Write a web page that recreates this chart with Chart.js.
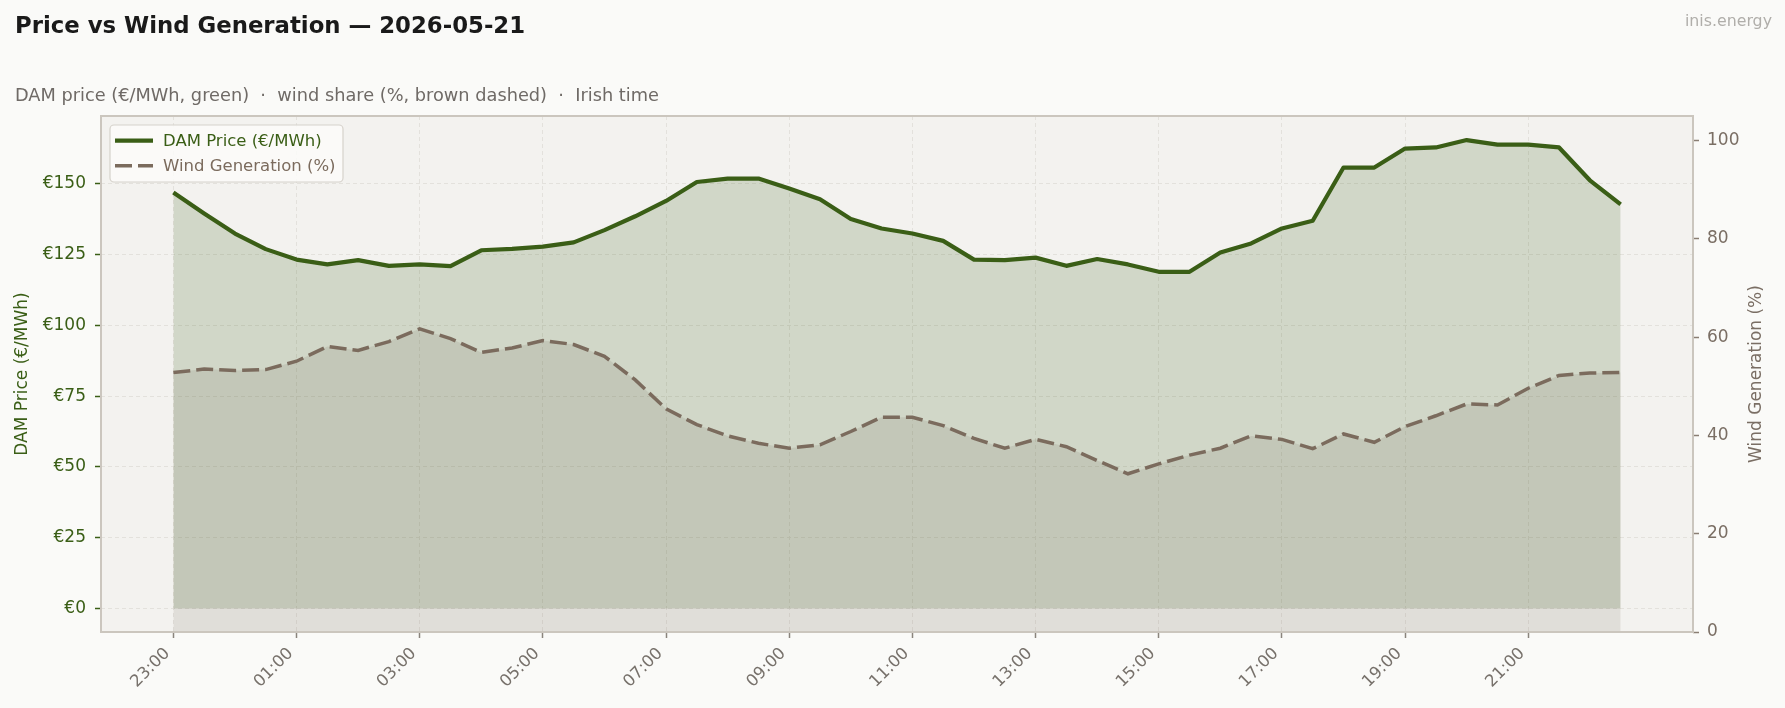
<!DOCTYPE html>
<html lang="en">
<head>
<meta charset="utf-8">
<title>Price vs Wind Generation</title>
<script src="https://cdn.jsdelivr.net/npm/chart.js"></script>
<style>
    body { margin: 0; background: #fafaf8; font-family: 'DejaVu Sans', sans-serif; }
    #wrap { position: relative; width: 1785px; height: 708px; }
    #wrap div { position: absolute; white-space: pre; line-height: 1; }
    .title { left: 15px; top: 14px; font-size: 22.8px; font-weight: bold; color: #1a1a1a; }
    .brand { right: 13px; top: 13px; font-size: 15.8px; color: #b0aeaa; }
    .sub { left: 15px; top: 87px; font-size: 17.75px; color: #6f6a66; }
    canvas { position: absolute; left: 0; top: 0; }
</style>
</head>
<body>
<div id="wrap">
    <canvas id="priceWindChart" width="1785" height="708"></canvas>
    <div class="title">Price vs Wind Generation — 2026-05-21</div>
    <div class="brand">inis.energy</div>
    <div class="sub">DAM price (€/MWh, green)  ·  wind share (%, brown dashed)  ·  Irish time</div>
</div>

<script>
// half-hourly slots, Irish time
const times = [
    '23:00', '23:30', '00:00', '00:30', '01:00', '01:30', '02:00', '02:30',
    '03:00', '03:30', '04:00', '04:30', '05:00', '05:30', '06:00', '06:30',
    '07:00', '07:30', '08:00', '08:30', '09:00', '09:30', '10:00', '10:30',
    '11:00', '11:30', '12:00', '12:30', '13:00', '13:30', '14:00', '14:30',
    '15:00', '15:30', '16:00', '16:30', '17:00', '17:30', '18:00', '18:30',
    '19:00', '19:30', '20:00', '20:30', '21:00', '21:30', '22:00', '22:30'
];

// DAM price, €/MWh
const price = [
    146.9, 139.5, 132.4, 126.9, 123.2, 121.5, 123.0, 121.0, 121.5, 120.9,
    126.5, 127.0, 127.8, 129.3, 133.6, 138.5, 143.9, 150.6, 151.8, 151.8,
    148.3, 144.5, 137.5, 134.2, 132.4, 129.8, 123.2, 123.0, 123.9, 121.0,
    123.4, 121.5, 118.9, 118.9, 125.7, 128.9, 134.2, 136.9, 155.7, 155.7,
    162.4, 162.8, 165.4, 163.8, 163.8, 162.8, 151.2, 142.7
];

// wind share of generation, %
const wind = [
    52.8, 53.5, 53.2, 53.4, 55.1, 58.1, 57.3, 59.1, 61.7, 59.7,
    56.9, 57.8, 59.3, 58.5, 56.1, 51.3, 45.4, 42.2, 39.9, 38.4,
    37.4, 38.1, 40.8, 43.7, 43.7, 42.0, 39.4, 37.4, 39.2, 37.7,
    34.9, 32.2, 34.2, 36.0, 37.4, 39.9, 39.2, 37.3, 40.3, 38.6,
    41.8, 44.0, 46.4, 46.2, 49.6, 52.2, 52.7, 52.8
];

const xTicks = ['23:00', '01:00', '03:00', '05:00', '07:00', '09:00', '11:00', '13:00', '15:00', '17:00', '19:00', '21:00'];
const priceTicks = [0, 25, 50, 75, 100, 125, 150];
const windTicks = [0, 20, 40, 60, 80, 100];

const green = '#3a5e16';
const brown = '#7b6b5d';
const windText = '#7a6e64';
const gridColor = '#e3e1dc';

Chart.defaults.font.family = "'DejaVu Sans', sans-serif";

// plot background, frame, right axis title and the boxed legend
const framePlugin = {
    id: 'frame',
    beforeDraw(chart) {
        const { ctx, chartArea: a } = chart;
        ctx.save();
        ctx.fillStyle = '#f3f2ef';
        ctx.fillRect(a.left, a.top, a.right - a.left, a.bottom - a.top);
        ctx.restore();
    },
    afterDraw(chart) {
        const { ctx, chartArea: a } = chart;
        ctx.save();
        ctx.strokeStyle = '#cbc6be';
        ctx.lineWidth = 2;
        ctx.strokeRect(a.left, a.top, a.right - a.left, a.bottom - a.top);

        // right axis title, reading bottom to top like the left one
        ctx.save();
        ctx.translate(1757, (a.top + a.bottom) / 2);
        ctx.rotate(-Math.PI / 2);
        ctx.font = "17px 'DejaVu Sans'";
        ctx.fillStyle = windText;
        ctx.textAlign = 'center';
        ctx.textBaseline = 'middle';
        ctx.fillText('Wind Generation (%)', 0, 0);
        ctx.restore();

        // legend box
        const x = 110, y = 125, w = 233, h = 57;
        ctx.beginPath();
        ctx.roundRect(x, y, w, h, 4);
        ctx.fillStyle = 'rgba(251,251,249,0.85)';
        ctx.fill();
        ctx.strokeStyle = '#d6d2cb';
        ctx.lineWidth = 1.2;
        ctx.stroke();

        ctx.font = "16.5px 'DejaVu Sans'";
        ctx.textBaseline = 'middle';
        chart.data.datasets.forEach((ds, i) => {
            const ry = 140.7 + i * 25;
            ctx.beginPath();
            ctx.setLineDash(ds.borderDash || []);
            ctx.strokeStyle = ds.borderColor;
            ctx.lineWidth = ds.borderWidth;
            ctx.moveTo(115, ry);
            ctx.lineTo(153, ry);
            ctx.stroke();
            ctx.setLineDash([]);
            ctx.fillStyle = ds.borderColor;
            ctx.fillText(ds.label, 163, ry + 1);
        });
        ctx.restore();
    }
};

new Chart(document.getElementById('priceWindChart'), {
    type: 'line',
    data: {
        datasets: [{
            label: 'DAM Price (€/MWh)',
            data: price.map((v, i) => ({ x: i, y: v })),
            yAxisID: 'y',
            borderColor: green,
            borderWidth: 4.2,
            borderJoinStyle: 'round',
            backgroundColor: 'rgba(58,94,22,0.18)',
            fill: { value: 0 },
            pointRadius: 0,
            order: 1
        }, {
            label: 'Wind Generation (%)',
            data: wind.map((v, i) => ({ x: i, y: v })),
            yAxisID: 'y1',
            borderColor: brown,
            borderWidth: 3.5,
            borderDash: [17, 6],
            backgroundColor: 'rgba(122,106,92,0.15)',
            fill: 'origin',
            pointRadius: 0,
            order: 0
        }]
    },
    options: {
        responsive: false,
        animation: false,
        layout: { padding: { top: 116, left: 0, right: 0, bottom: 0 } },
        plugins: {
            legend: { display: false },
            tooltip: { enabled: false },
            filler: { drawTime: 'beforeDatasetsDraw' }
        },
        scales: {
            x: {
                type: 'linear',
                min: -2.35,
                max: 49.35,
                afterBuildTicks: s => { s.ticks = xTicks.map(t => ({ value: times.indexOf(t) })); },
                afterFit: s => { s.height = 76; },
                grid: { color: gridColor, lineWidth: 1, tickColor: '#8a847d', tickWidth: 1.5, tickLength: 6, tickBorderDash: [] },
                border: { display: false, dash: [4, 3] },
                ticks: {
                    autoSkip: false, minRotation: 45, maxRotation: 45, padding: 6, labelOffset: -6,
                    color: '#77716b', font: { size: 16.5 },
                    callback: v => times[v]
                }
            },
            y: {
                position: 'left',
                min: -8.27,
                max: 173.9,
                afterBuildTicks: s => { s.ticks = priceTicks.map(v => ({ value: v })); },
                afterFit: s => { s.width = 101; },
                grid: { color: gridColor, lineWidth: 1, tickColor: green, tickWidth: 1.5, tickLength: 6, tickBorderDash: [] },
                border: { display: false, dash: [4, 3] },
                ticks: { padding: 9, color: green, font: { size: 17 }, callback: v => '€' + v },
                title: { display: true, text: 'DAM Price (€/MWh)', color: green, font: { size: 17 }, padding: { top: 12, bottom: 0 } }
            },
            y1: {
                position: 'right',
                min: 0,
                max: 105,
                afterBuildTicks: s => { s.ticks = windTicks.map(v => ({ value: v })); },
                afterFit: s => { s.width = 92; },
                grid: { drawOnChartArea: false, tickColor: '#8a7e73', tickWidth: 1.5, tickLength: 6, tickBorderDash: [] },
                border: { display: false },
                ticks: { padding: 8, color: windText, font: { size: 17 } }
            }
        }
    },
    plugins: [framePlugin]
});
</script>
</body>
</html>
